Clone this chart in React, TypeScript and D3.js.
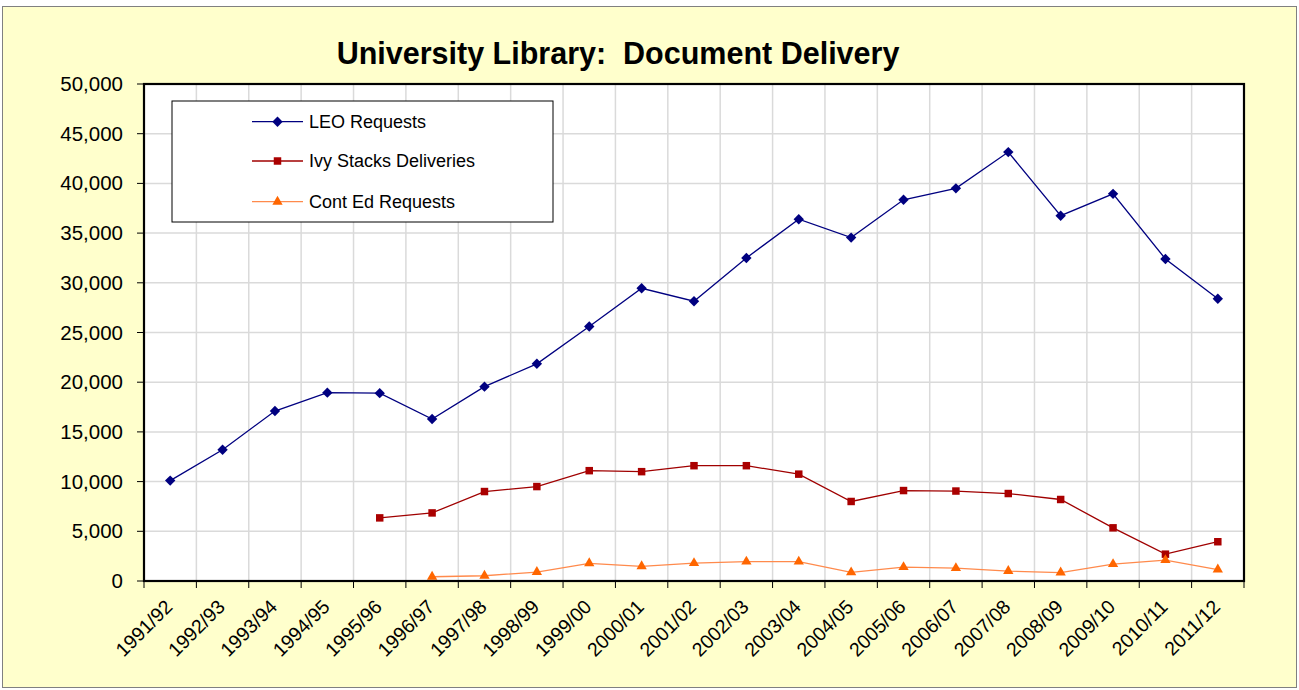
import React from "react";
import * as d3 from "d3";

const categories = [
  "1991/92", "1992/93", "1993/94", "1994/95", "1995/96", "1996/97", "1997/98",
  "1998/99", "1999/00", "2000/01", "2001/02", "2002/03", "2003/04", "2004/05",
  "2005/06", "2006/07", "2007/08", "2008/09", "2009/10", "2010/11", "2011/12",
];

const leoRequests = [
  10100, 13200, 17100, 18950, 18900, 16300, 19550, 21850, 25600, 29450, 28150,
  32500, 36400, 34550, 38350, 39500, 43150, 36750, 38950, 32400, 28400,
];

const ivyDeliveries = [
  null, null, null, null, 6350, 6850, 9000, 9500, 11100, 11000, 11600, 11600,
  10750, 8000, 9100, 9050, 8800, 8200, 5350, 2700, 3950,
];

const contEdRequests = [
  null, null, null, null, null, 430, 530, 900, 1780, 1480, 1800, 1950, 1950,
  870, 1400, 1300, 1000, 850, 1700, 2100, 1150,
];

const yTicks = [0, 5000, 10000, 15000, 20000, 25000, 30000, 35000, 40000, 45000, 50000];

const series = [
  { name: "LEO Requests", values: leoRequests, line: "#000080", marker: "#000080", shape: "diamond" },
  { name: "Ivy Stacks Deliveries", values: ivyDeliveries, line: "#A00000", marker: "#AA0000", shape: "square" },
  { name: "Cont Ed Requests", values: contEdRequests, line: "#FF8A4C", marker: "#FF6600", shape: "triangle" },
];

const W = 1299;
const H = 690;
const plot = { left: 144, top: 84, right: 1244, bottom: 581 };
const FONT = "Liberation Sans, Arial, sans-serif";

const symbolPath = (shape: string) => {
  if (shape === "diamond") return d3.symbol().type(d3.symbolSquare).size(54)()!;
  if (shape === "square") return d3.symbol().type(d3.symbolSquare).size(56)()!;
  return d3.symbol().type(d3.symbolTriangle).size(46)()!;
};

const Marker = ({ shape, x, y, fill }) => (
  <path
    d={symbolPath(shape)}
    fill={fill}
    transform={`translate(${x},${y})${shape === "diamond" ? " rotate(45)" : ""}`}
  />
);

const App = () => {
  const x = d3
    .scaleBand<string>()
    .domain(categories)
    .range([plot.left, plot.right])
    .paddingInner(0)
    .paddingOuter(0);
  const cx = (c: string) => (x(c) || 0) + x.bandwidth() / 2;

  const y = d3.scaleLinear().domain([0, 50000]).range([plot.bottom, plot.top]);

  const line = d3
    .line<number | null>()
    .defined((d) => d != null)
    .x((d, i) => cx(categories[i]))
    .y((d) => y(d as number));

  const boundaries = categories.map((c) => x(c) || 0).concat([plot.right]);

  return (
    <svg
      width={W}
      height={H}
      style={{ position: "absolute", left: 0, top: 0, fontFamily: FONT }}
    >
      <rect x={2.5} y={6.5} width={1294} height={681} fill="#FFFFCC" stroke="#808080" strokeWidth={1} />

      <text
        x={618}
        y={64}
        textAnchor="middle"
        fontSize={30.5}
        fontWeight="bold"
        style={{ whiteSpace: "pre" }}
      >
        {"University Library:  Document Delivery"}
      </text>

      <rect x={plot.left} y={plot.top} width={plot.right - plot.left} height={plot.bottom - plot.top} fill="#FFFFFF" />

      {/* gridlines */}
      {yTicks.slice(1, -1).map((t) => (
        <line key={"h" + t} x1={plot.left} x2={plot.right} y1={y(t)} y2={y(t)} stroke="#DADADA" strokeWidth={1.5} />
      ))}
      {boundaries.slice(1, -1).map((bx, i) => (
        <line key={"v" + i} x1={bx} x2={bx} y1={plot.top} y2={plot.bottom} stroke="#DADADA" strokeWidth={1.5} />
      ))}

      {/* legend */}
      <rect x={172} y={101} width={381} height={121} fill="#FFFFFF" stroke="#000000" strokeWidth={1} />
      {series.map((s, i) => {
        const ly = [121.7, 161, 201.7][i];
        return (
          <g key={s.name}>
            <line x1={252} x2={303} y1={ly} y2={ly} stroke={s.line} strokeWidth={1.3} />
            <Marker shape={s.shape} x={277.5} y={ly} fill={s.marker} />
            <text x={309} y={ly + 6} fontSize={18} fill="#000000">
              {s.name}
            </text>
          </g>
        );
      })}

      {/* series */}
      {series.map((s) => (
        <g key={s.name + "-line"}>
          <path d={line(s.values) || ""} fill="none" stroke={s.line} strokeWidth={1.3} />
          {s.values.map((v, i) =>
            v == null ? null : (
              <Marker key={i} shape={s.shape} x={cx(categories[i])} y={y(v)} fill={s.marker} />
            )
          )}
        </g>
      ))}

      {/* plot border */}
      <rect
        x={plot.left}
        y={plot.top}
        width={plot.right - plot.left}
        height={plot.bottom - plot.top}
        fill="none"
        stroke="#000000"
        strokeWidth={2.2}
      />

      {/* y axis */}
      {yTicks.map((t) => (
        <g key={"y" + t}>
          <line x1={137} x2={plot.left} y1={y(t)} y2={y(t)} stroke="#000000" strokeWidth={1} />
          <text x={123} y={y(t) + 7} textAnchor="end" fontSize={20.5} fill="#000000">
            {d3.format(",")(t)}
          </text>
        </g>
      ))}

      {/* x axis */}
      {boundaries.map((bx, i) => (
        <line key={"xt" + i} x1={bx} x2={bx} y1={plot.bottom} y2={plot.bottom + 7} stroke="#000000" strokeWidth={1} />
      ))}
      {categories.map((c) => (
        <text
          key={c}
          transform={`translate(${cx(c) + 3.5},${608}) rotate(-45)`}
          textAnchor="end"
          fontSize={19.5}
          fill="#000000"
        >
          {c}
        </text>
      ))}
    </svg>
  );
};

export default App;
